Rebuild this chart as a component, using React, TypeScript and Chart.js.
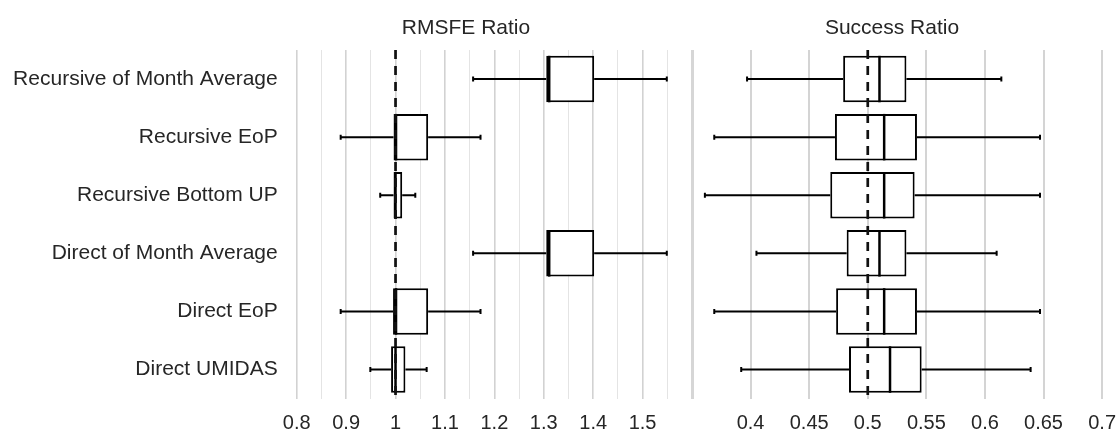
import React, { useEffect, useRef } from "react";
import { Chart, registerables } from "chart.js";

Chart.register(...registerables);

const categories = [
  "Recursive of Month Average",
  "Recursive EoP",
  "Recursive Bottom UP",
  "Direct of Month Average",
  "Direct EoP",
  "Direct UMIDAS",
];

const rmsfeMin = [1.157, 0.889, 0.969, 1.157, 0.889, 0.949];
const rmsfeQ1 = [1.305, 0.996, 0.996, 1.305, 0.995, 0.991];
const rmsfeMedian = [1.311, 1.001, 1.0, 1.311, 1.001, 1.0];
const rmsfeQ3 = [1.402, 1.066, 1.0135, 1.402, 1.066, 1.02];
const rmsfeMax = [1.549, 1.172, 1.04, 1.549, 1.172, 1.063];

const successMin = [0.397, 0.369, 0.361, 0.405, 0.369, 0.392];
const successQ1 = [0.479, 0.472, 0.468, 0.482, 0.473, 0.484];
const successMedian = [0.51, 0.514, 0.514, 0.51, 0.514, 0.519];
const successQ3 = [0.533, 0.542, 0.54, 0.533, 0.542, 0.546];
const successMax = [0.614, 0.647, 0.647, 0.61, 0.647, 0.639];

const rmsfeTicks = { min: 0.8, max: 1.6, step: 0.05 };
const successTicks = { min: 0.35, max: 0.7, step: 0.05 };
const rmsfeRef = 1.0;
const successRef = 0.5;

const FONT = "'Liberation Sans', Arial, sans-serif";
const TEXT = "#262626";

function fmt(v: number) {
  return String(Number(v.toFixed(2)));
}

function boxExtras(mins: number[], medians: number[], maxs: number[], refValue: number) {
  return {
    id: "boxExtras",
    beforeDatasetsDraw(chart: any) {
      const ctx = chart.ctx;
      const xs = chart.scales.x;
      const ys = chart.scales.y;
      ctx.save();
      ctx.strokeStyle = "#000";
      ctx.lineWidth = 2;
      mins.forEach((mn, i) => {
        const cy = ys.getPixelForValue(i);
        const q1 = chart.data.datasets[0].data[i][0];
        const q3 = chart.data.datasets[0].data[i][1];
        ctx.beginPath();
        ctx.moveTo(xs.getPixelForValue(mn), cy);
        ctx.lineTo(xs.getPixelForValue(q1), cy);
        ctx.moveTo(xs.getPixelForValue(q3), cy);
        ctx.lineTo(xs.getPixelForValue(maxs[i]), cy);
        ctx.stroke();
        ctx.beginPath();
        const a = xs.getPixelForValue(mn);
        const b = xs.getPixelForValue(maxs[i]);
        ctx.moveTo(a, cy - 2.5);
        ctx.lineTo(a, cy + 2.5);
        ctx.moveTo(b, cy - 2.5);
        ctx.lineTo(b, cy + 2.5);
        ctx.stroke();
      });
      ctx.restore();
    },
    afterDatasetsDraw(chart: any) {
      const ctx = chart.ctx;
      const xs = chart.scales.x;
      const ys = chart.scales.y;
      const meta = chart.getDatasetMeta(0);
      ctx.save();
      ctx.strokeStyle = "#000";
      ctx.lineWidth = 2.5;
      medians.forEach((md, i) => {
        const cy = ys.getPixelForValue(i);
        const h = (meta.data[i] as any).height;
        const mx = xs.getPixelForValue(md);
        ctx.beginPath();
        ctx.moveTo(mx, cy - h / 2);
        ctx.lineTo(mx, cy + h / 2);
        ctx.stroke();
      });
      const rx = xs.getPixelForValue(refValue);
      ctx.strokeStyle = "#111";
      ctx.lineWidth = 2.7;
      ctx.setLineDash([9, 7]);
      ctx.beginPath();
      ctx.moveTo(rx, chart.chartArea.top);
      ctx.lineTo(rx, chart.chartArea.bottom);
      ctx.stroke();
      ctx.restore();
    },
  };
}

function makeConfig(
  q1: number[],
  q3: number[],
  mins: number[],
  medians: number[],
  maxs: number[],
  ref: number,
  range: { min: number; max: number; step: number },
  left: boolean
): any {
  const isMajorLeft = (v: number) => Math.abs(v * 10 - Math.round(v * 10)) < 1e-6;
  return {
    type: "bar",
    data: {
      labels: categories,
      datasets: [
        {
          data: q1.map((v, i) => [v, q3[i]]),
          backgroundColor: "#ffffff",
          borderColor: "#000000",
          borderWidth: 2,
          borderSkipped: false,
          barPercentage: 0.8,
          categoryPercentage: 1,
        },
      ],
    },
    options: {
      indexAxis: "y",
      responsive: false,
      animation: false,
      devicePixelRatio: 1,
      layout: { padding: { top: 50, left: 0, right: 0, bottom: 0 } },
      plugins: {
        legend: { display: false },
        tooltip: { enabled: false },
        title: { display: false },
      },
      scales: {
        x: {
          type: "linear",
          min: range.min,
          max: range.max,
          border: { display: false },
          afterFit: (s: any) => {
            s.height = 35.4;
          },
          grid: {
            drawTicks: false,
            color: (c: any) => {
              const v = c.tick ? c.tick.value : 0;
              if (left) return isMajorLeft(v) ? "#d2d2d2" : "#e4e4e4";
              return Math.abs(v - range.min) < 1e-6 ? "#d6d6d6" : "#d4d4d4";
            },
            lineWidth: (c: any) => {
              const v = c.tick ? c.tick.value : 0;
              if (left) return isMajorLeft(v) ? 1.6 : 1;
              return Math.abs(v - range.min) < 1e-6 ? 3 : 2;
            },
          },
          ticks: {
            stepSize: range.step,
            padding: 13,
            color: TEXT,
            font: { family: FONT, size: 20 },
            maxRotation: 0,
            autoSkip: false,
            callback: (value: any) => {
              const v = Number(value);
              if (left) {
                if (!isMajorLeft(v) || v > 1.55) return "";
                return fmt(v);
              }
              if (v < range.min + 1e-6) return "";
              return fmt(v);
            },
          },
        },
        y: {
          display: left,
          grid: { display: false, drawTicks: false },
          border: { display: false },
          afterFit: (s: any) => {
            if (left) s.width = 296.7;
          },
          ticks: {
            padding: 19,
            color: TEXT,
            font: { family: FONT, size: 21 },
          },
        },
      },
    },
    plugins: [boxExtras(mins, medians, maxs, ref)],
  };
}

export default function App() {
  const leftRef = useRef<HTMLCanvasElement | null>(null);
  const rightRef = useRef<HTMLCanvasElement | null>(null);

  useEffect(() => {
    const c1 = new Chart(
      leftRef.current as HTMLCanvasElement,
      makeConfig(rmsfeQ1, rmsfeQ3, rmsfeMin, rmsfeMedian, rmsfeMax, rmsfeRef, rmsfeTicks, true)
    );
    const c2 = new Chart(
      rightRef.current as HTMLCanvasElement,
      makeConfig(successQ1, successQ3, successMin, successMedian, successMax, successRef, successTicks, false)
    );
    return () => {
      c1.destroy();
      c2.destroy();
    };
  }, []);

  const titleStyle: React.CSSProperties = {
    position: "absolute",
    top: 16.4,
    transform: "translateX(-50%)",
    fontFamily: FONT,
    fontSize: 21,
    lineHeight: "21px",
    color: TEXT,
    whiteSpace: "nowrap",
  };

  return (
    <div
      style={{
        position: "absolute",
        left: 0,
        top: 0,
        width: 1118,
        height: 434,
        background: "#fff",
        overflow: "hidden",
      }}
    >
      <canvas
        ref={leftRef}
        width={705}
        height={434}
        style={{ position: "absolute", left: 0, top: 0, width: 705, height: 434 }}
      />
      <canvas
        ref={rightRef}
        width={450}
        height={434}
        style={{ position: "absolute", left: 679, top: 0, width: 450, height: 434 }}
      />
      <div style={{ ...titleStyle, left: 466 }}>RMSFE Ratio</div>
      <div style={{ ...titleStyle, left: 892 }}>Success Ratio</div>
    </div>
  );
}
